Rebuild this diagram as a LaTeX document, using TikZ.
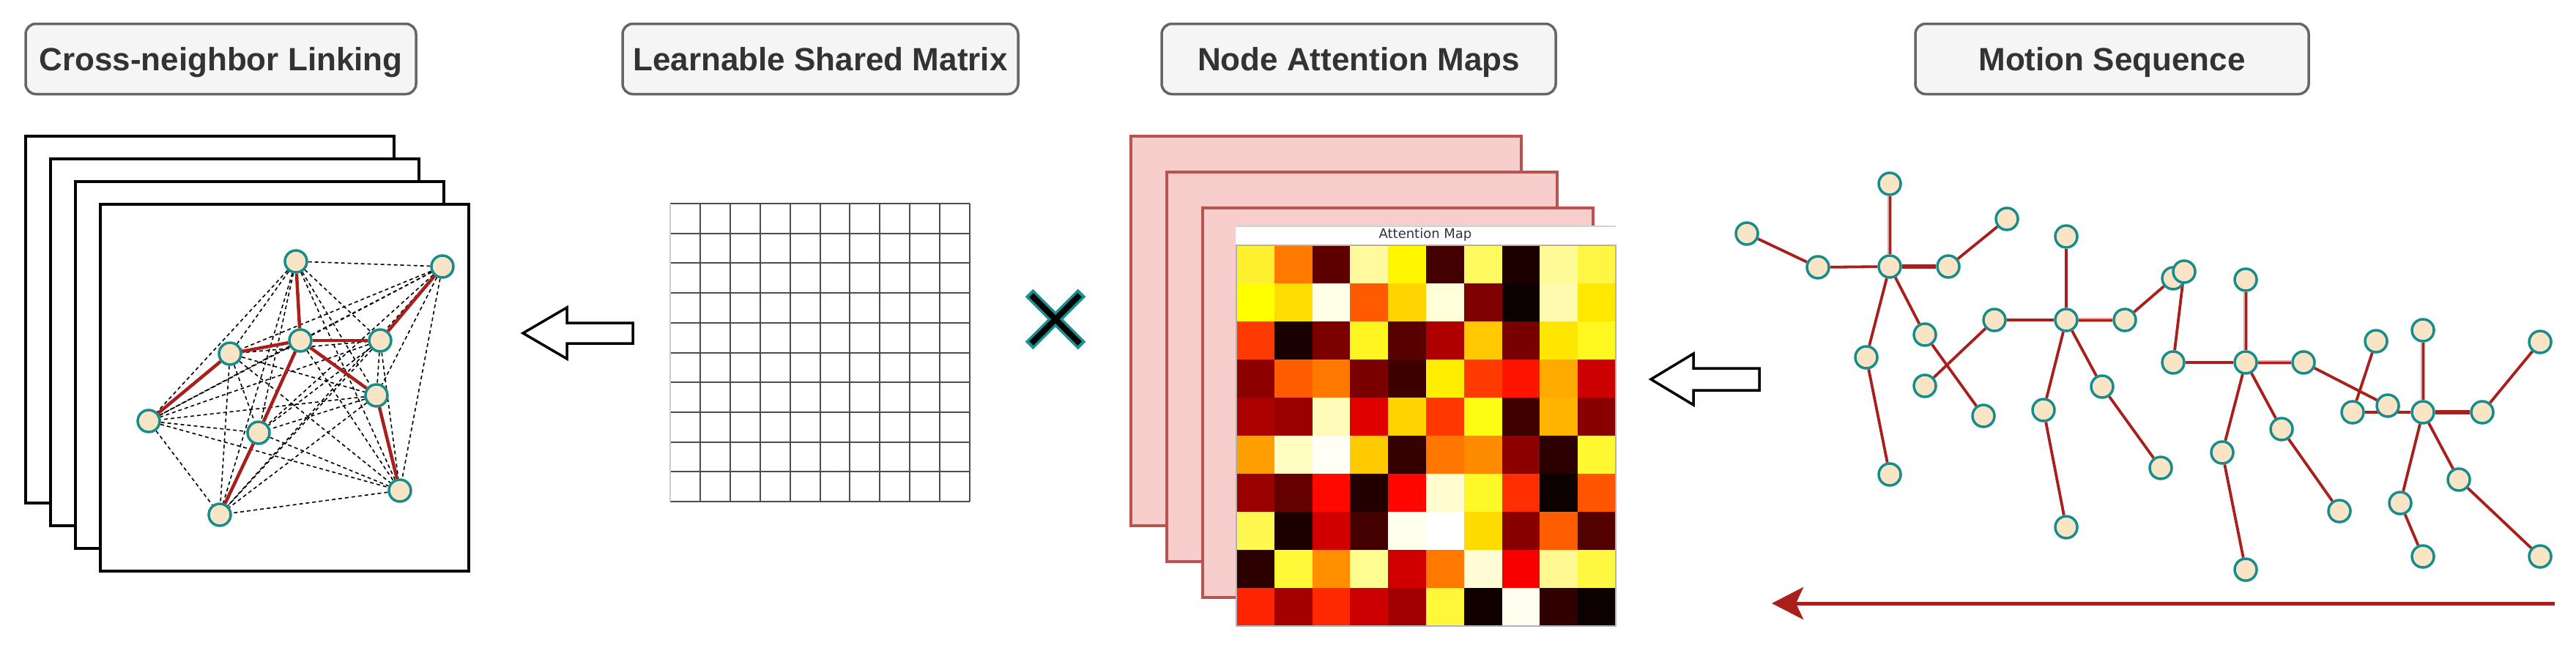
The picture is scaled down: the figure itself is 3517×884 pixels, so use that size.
\documentclass[tikz,border=0pt]{standalone}
\usepackage{fontspec}
\setmainfont{Liberation Sans}
\newfontfamily\dvfont{DejaVu Sans}
\usetikzlibrary{arrows.meta}
\pgfdeclarelayer{bg}
\pgfdeclarelayer{edges}
\pgfsetlayers{bg,edges,main}
\definecolor{boxfill}{HTML}{F5F5F5}
\definecolor{boxline}{HTML}{666666}
\definecolor{boxtext}{HTML}{333333}
\definecolor{pinkfill}{HTML}{F8CECC}
\definecolor{pinkline}{HTML}{B85450}
\definecolor{jointfill}{HTML}{F9E4C6}
\definecolor{jointline}{HTML}{178C8C}
\definecolor{bone}{HTML}{A81F1C}
\definecolor{bonehalo}{HTML}{E3A5A3}
\definecolor{gridline}{HTML}{4D4D4D}
\definecolor{gridedge}{HTML}{CCCCCC}
\definecolor{xteal}{HTML}{1A9090}
\begin{document}
\begin{tikzpicture}[x=1pt,y=-1pt,
  titlebox/.style={draw=boxline, fill=boxfill, line width=3.5pt, rounded corners=14pt,
    minimum height=96pt, inner sep=0pt, text height=31.5pt, text depth=0pt,
    text=boxtext, font=\fontsize{44}{52}\selectfont\bfseries},
  joint/.style={circle, draw=jointline, fill=jointfill, line width=3.5pt, minimum size=30pt, inner sep=0pt},
  bonelink/.style={draw=bone, line width=3.8pt},
  thickbone/.style={draw=bone, line width=6pt},
  softbone/.style={draw=bonehalo, line width=6.5pt, postaction={draw=bone, line width=3pt}},
  nbr/.style={draw=black, dash pattern=on 5pt off 4pt, line width=1.6pt},
  redlink/.style={draw=bone, line width=4.5pt},
  sheet/.style={draw=black, fill=white, line width=4pt},
  pinksheet/.style={draw=pinkline, fill=pinkfill, line width=4pt},
  hollow/.style={draw=black, fill=white, line width=3.5pt, line join=miter},
  maptitle/.style={font=\dvfont\fontsize{18}{20}\selectfont, text=boxtext, inner sep=0pt}
]
\useasboundingbox (0,0) rectangle (3517,884);

% ---------- titles ----------
\node[titlebox, minimum width=533pt] (t1) at (301.5,80.5) {Cross-neighbor Linking};
\node[titlebox, minimum width=540pt] (t2) at (1120,80.5) {Learnable Shared Matrix};
\node[titlebox, minimum width=538pt] (t3) at (1855,80.5) {Node Attention Maps};
\node[titlebox, minimum width=537pt] (t4) at (2883.5,80.5) {Motion Sequence};

% ---------- stacked frames (left) ----------
\begin{pgfonlayer}{bg}
\foreach \k in {0,1,2,3}
  \draw[sheet] (35+34*\k,186+31*\k) rectangle (538+34*\k,687+31*\k);
\end{pgfonlayer}

% graph nodes
\node[joint] (g1) at (404,357) {};
\node[joint] (g2) at (604,364) {};
\node[joint] (g3) at (410,465) {};
\node[joint] (g4) at (519,465) {};
\node[joint] (g5) at (314,483) {};
\node[joint] (g6) at (514,540) {};
\node[joint] (g7) at (203,575) {};
\node[joint] (g8) at (353,591) {};
\node[joint] (g9) at (546,670) {};
\node[joint] (g10) at (300,703) {};

\begin{pgfonlayer}{edges}
\foreach \i in {1,...,9}{
  \pgfmathtruncatemacro\s{\i+1}
  \foreach \j in {\s,...,10}
    \draw[nbr] (g\i) -- (g\j);
}
\foreach \a/\b in {g1/g3, g3/g5, g5/g7, g3/g4, g4/g2, g3/g6, g6/g9, g3/g8, g8/g10}
  \draw[redlink] (\a) -- (\b);
\end{pgfonlayer}

% hollow arrow 1
\draw[hollow] (714,455) -- (774,420) -- (774,441) -- (864,441) -- (864,469) -- (774,469) -- (774,490) -- cycle;

% ---------- learnable shared matrix grid ----------
\foreach \i in {0,...,10}
  \draw[gridline, line width=2pt] (915,{278+40.7*\i}) -- (1324,{278+40.7*\i});
\foreach \j in {1,...,10}
  \draw[gridline, line width=2pt] ({915+40.9*\j},278) -- ({915+40.9*\j},685);
\draw[gridedge, line width=2pt] (915,278) -- (915,685);

% ---------- multiplication sign ----------
\draw[xteal, line width=15pt] (1405,400) -- (1477,472) (1405,472) -- (1477,400);
\draw[black, line width=8pt] (1408,403) -- (1474,469) (1408,469) -- (1474,403);

% ---------- node attention maps ----------
\foreach \k in {0,1,2}
  \draw[pinksheet] (1544+49*\k,186+49*\k) rectangle (2077+49*\k,718+49*\k);
\fill[white] (1687,309) rectangle (2206,856);
\draw[gray!35, line width=1.5pt] (1687,309) -- (2206,309);
\node[maptitle] (maptitle) at (1946,321) {Attention Map};
\foreach \row [count=\r from 0] in {
  {FFF030,FF7800,5E0000,FFFA9E,FFF700,420000,FFFA60,1C0000,FFFA98,FFF545},
  {FFFF00,FFDD00,FFFFE8,FF5A00,FFD500,FFFFDA,7E0000,0C0000,FFFAB0,FFE800},
  {FF3A00,1A0000,7C0000,FFF520,560000,AE0000,FFC800,780000,FFE600,FFF81E},
  {8C0000,FF5C00,FF7800,7A0000,3C0000,FFEE00,FF3A00,FF1400,FFAA00,CC0000},
  {AA0000,9A0000,FFFCBA,E00000,FFD300,FF3800,FFFC14,3E0000,FFB400,880000},
  {FF9E00,FFFCC0,FFFFF5,FFCA00,340000,FF7600,FF8C00,8C0000,2C0000,FFF830},
  {9A0000,640000,FF0800,220000,FF0600,FFFCD0,FFF828,FF2E00,0C0000,FF5400},
  {FFF850,1C0000,D00000,440000,FFFFEE,FFFFFF,FFDC00,880000,FF5E00,520000},
  {2C0000,FFF838,FF8E00,FFFC90,D00000,FF7800,FFFCD6,F80000,FFF890,FFF840},
  {FF2400,A40000,FF2800,CC0000,A00000,FFF83A,100000,FFFFF0,300000,0C0000}}{
  \foreach \c [count=\k from 0] in \row {
    \definecolor{hm}{HTML}{\c}
    \fill[hm] ({1688+51.8*\k},{335+52*\r}) rectangle ({1688+51.8*(\k+1)},{335+52*(\r+1)});
  }
}
\draw[gray!60, line width=1.2pt] (1688,335) rectangle (2206,855);

% hollow arrow 2
\draw[hollow] (2254,518) -- (2312,483) -- (2312,503) -- (2402,503) -- (2402,533) -- (2312,533) -- (2312,553) -- cycle;

% ---------- motion sequence skeletons ----------
% skeleton 1
\node[joint] (s1h) at (2580,251) {};
\node[joint] (s1c) at (2580,364) {};
\node[joint] (s1ls) at (2482,365) {};
\node[joint] (s1lh) at (2385,319) {};
\node[joint] (s1rs) at (2660,364) {};
\node[joint] (s1rh) at (2740,299) {};
\node[joint] (s1lk) at (2548,488) {};
\node[joint] (s1lf) at (2580,648) {};
\node[joint] (s1rk) at (2628,457) {};
\node[joint] (s1rf) at (2708,568) {};
% skeleton 2
\node[joint] (s2h) at (2821,323) {};
\node[joint] (s2c) at (2821,437) {};
\node[joint] (s2ls) at (2723,437) {};
\node[joint] (s2lh) at (2628,527) {};
\node[joint] (s2rs) at (2901,437) {};
\node[joint] (s2rh) at (2967,380) {};
\node[joint] (s2lk) at (2790,560) {};
\node[joint] (s2lf) at (2821,720) {};
\node[joint] (s2rk) at (2870,528) {};
\node[joint] (s2rf) at (2950,639) {};
% skeleton 3
\node[joint] (s3h) at (3066,382) {};
\node[joint] (s3c) at (3066,495) {};
\node[joint] (s3ls) at (2967,495) {};
\node[joint] (s3lh) at (2982,371) {};
\node[joint] (s3rs) at (3145,495) {};
\node[joint] (s3rh) at (3260,554) {};
\node[joint] (s3lk) at (3034,618) {};
\node[joint] (s3lf) at (3066,778) {};
\node[joint] (s3rk) at (3115,586) {};
\node[joint] (s3rf) at (3194,698) {};
% skeleton 4
\node[joint] (s4h) at (3308,451) {};
\node[joint] (s4c) at (3308,563) {};
\node[joint] (s4ls) at (3212,563) {};
\node[joint] (s4lh) at (3244,466) {};
\node[joint] (s4rs) at (3389,563) {};
\node[joint] (s4rh) at (3468,467) {};
\node[joint] (s4lk) at (3277,687) {};
\node[joint] (s4lf) at (3308,760) {};
\node[joint] (s4rk) at (3357,655) {};
\node[joint] (s4rf) at (3468,760) {};

\begin{pgfonlayer}{edges}
\foreach \s in {1,2,3,4}{
  \foreach \a/\b in {ls/lh, rs/rh, c/ls, c/lk, lk/lf, c/rk, rk/rf}
    \draw[bonelink] (s\s\a) -- (s\s\b);
}
\draw[softbone] (s1c) -- (s1h);
\draw[thickbone] (s1c) -- (s1rs);
\draw[bonelink] (s2c) -- (s2h);
\draw[softbone] (s2c) -- (s2rs);
\draw[softbone] (s3c) -- (s3h);
\draw[softbone] (s3c) -- (s3rs);
\draw[softbone] (s4c) -- (s4h);
\draw[thickbone] (s4c) -- (s4rs);
\end{pgfonlayer}

% time arrow
\coordinate (seqstart) at (3488,824);
\coordinate (seqend) at (2419,824);
\draw[bone, line width=5pt, -{Stealth[length=43pt, width=44pt, inset=10pt]}] (seqstart) -- (seqend);
\end{tikzpicture}
\end{document}
